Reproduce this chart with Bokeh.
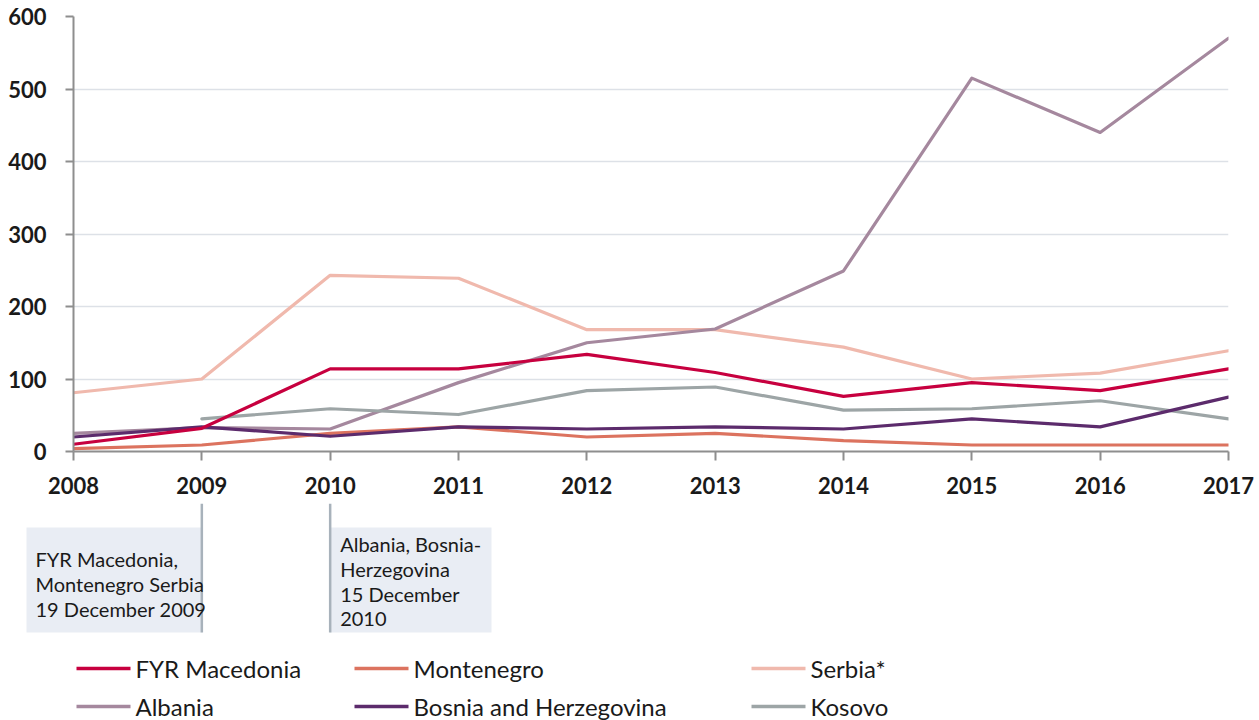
from bokeh.plotting import figure
from bokeh.models import Range1d, FixedTicker
from bokeh.embed import file_html
from bokeh.resources import INLINE
from bokeh.core.properties import value

# ---------------- data ----------------
years = [2008, 2009, 2010, 2011, 2012, 2013, 2014, 2015, 2016, 2017]
macedonia = [10, 32, 114, 114, 134, 109, 76, 95, 84, 114]
montenegro = [4, 9, 25, 34, 20, 25, 15, 9, 9, 9]
serbia = [81, 100, 243, 239, 168, 168, 144, 100, 108, 139]
albania = [25, 33, 31, 95, 150, 169, 249, 515, 440, 570]
bosnia = [20, 34, 21, 34, 31, 34, 31, 45, 34, 75]
kosovo_years = [2009, 2010, 2011, 2012, 2013, 2014, 2015, 2016, 2017]
kosovo = [45, 59, 51, 84, 89, 57, 59, 70, 45]

y_ticks = [0, 100, 200, 300, 400, 500, 600]

series_names = ["FYR Macedonia", "Montenegro", "Serbia*", "Albania", "Bosnia and Herzegovina", "Kosovo"]
series_colors = ["#c7003f", "#dc735f", "#f0b9ad", "#a5889e", "#5c2b6c", "#9da5a6"]

event_years = [2009, 2010]
event_texts = [
    ["FYR Macedonia,", "Montenegro Serbia", "19 December 2009"],
    ["Albania, Bosnia-", "Herzegovina", "15 December", "2010"],
]

FONT = "Lato"
TXT = "#1a1a1a"
W = 1259
H = 720
BL, BR, BT, BB = 73, 31, 16, 52
FRAME_H = 435
H1 = BT + FRAME_H + BB
H2 = H - H1

# ---------------- main chart ----------------
p = figure(width=W, height=H1, x_range=Range1d(years[0], years[-1]), y_range=Range1d(0, 600),
           output_backend="svg", toolbar_location=None,
           min_border_left=BL, min_border_right=BR, min_border_top=BT, min_border_bottom=BB)
p.outline_line_color = None
p.xgrid.visible = False
p.ygrid.grid_line_color = "#dde1e7"
p.ygrid.grid_line_width = 1.6
p.ygrid.ticker = FixedTicker(ticks=y_ticks)

for ax, out, stand in ((p.xaxis, 9, 16), (p.yaxis, 8, 19)):
    ax.axis_line_color = "#8e8e8e"
    ax.axis_line_width = 2
    ax.major_tick_line_color = "#8e8e8e"
    ax.major_tick_line_width = 2
    ax.major_tick_out = out
    ax.major_tick_in = 0
    ax.minor_tick_line_color = None
    ax.major_label_text_font = FONT
    ax.major_label_text_font_style = "bold"
    ax.major_label_text_font_size = "22px"
    ax.major_label_text_color = TXT
    ax.major_label_standoff = stand
p.xaxis.ticker = FixedTicker(ticks=years)
p.yaxis.ticker = FixedTicker(ticks=y_ticks)

data = {
    "Serbia*": (years, serbia),
    "Albania": (years, albania),
    "Kosovo": (kosovo_years, kosovo),
    "Montenegro": (years, montenegro),
    "Bosnia and Herzegovina": (years, bosnia),
    "FYR Macedonia": (years, macedonia),
}
cmap = dict(zip(series_names, series_colors))
for name, (xs, ys) in data.items():
    p.line(xs, ys, line_color=cmap[name], line_width=3.2, line_join="round", line_cap="round")

# ---------------- annotations + legend (separate root, full-width frame) ----------------
q = figure(width=W, height=H2, x_range=Range1d(0, W), y_range=Range1d(H, H1),
           output_backend="svg", toolbar_location=None, x_axis_type=None, y_axis_type=None,
           min_border=0, min_border_left=0, min_border_right=0, min_border_top=0, min_border_bottom=0)
q.outline_line_color = None
q.xgrid.visible = False
q.ygrid.visible = False

ppy = (W - BL - BR) / (years[-1] - years[0])


def year_px(yr):
    return BL + (yr - years[0]) * ppy


ev_x = [year_px(y) for y in event_years]
box_left = [26, ev_x[1]]
box_right = [ev_x[0], 491]
q.quad(left=box_left, right=box_right, top=[527, 527], bottom=[632, 632],
       fill_color="#e9edf4", line_color=None)
q.segment(x0=ev_x, x1=ev_x, y0=[H1] * 2, y1=[632, 632], line_color="#a8b2bb", line_width=2.5)

text_left = [35, ev_x[1] + 10]
text_top = [558, 543]
tx, ty, tt = [], [], []
for i, lines in enumerate(event_texts):
    for j, t in enumerate(lines):
        tx.append(text_left[i])
        ty.append(text_top[i] + j * 25.3)
        tt.append(t)
q.text(x=tx, y=ty, text=tt, text_font=value(FONT), text_font_size="20px",
       text_color=TXT, text_baseline="middle", text_align="left")

col_x = [76, 354, 751]
row_y = [668, 706]
lx0, lx1, lyy, ltx, lty = [], [], [], [], []
for k, name in enumerate(series_names):
    r, c = divmod(k, 3)
    lx0.append(col_x[c])
    lx1.append(col_x[c] + 54)
    lyy.append(row_y[r])
    ltx.append(col_x[c] + 59)
    lty.append(row_y[r])
q.segment(x0=lx0, x1=lx1, y0=lyy, y1=lyy, line_color=series_colors, line_width=3.5)
q.text(x=ltx, y=lty, text=series_names, text_font=value(FONT), text_font_size="24px",
       text_color=TXT, text_baseline="middle", text_align="left")

open("out.html", "w").write(file_html([p, q], INLINE))
